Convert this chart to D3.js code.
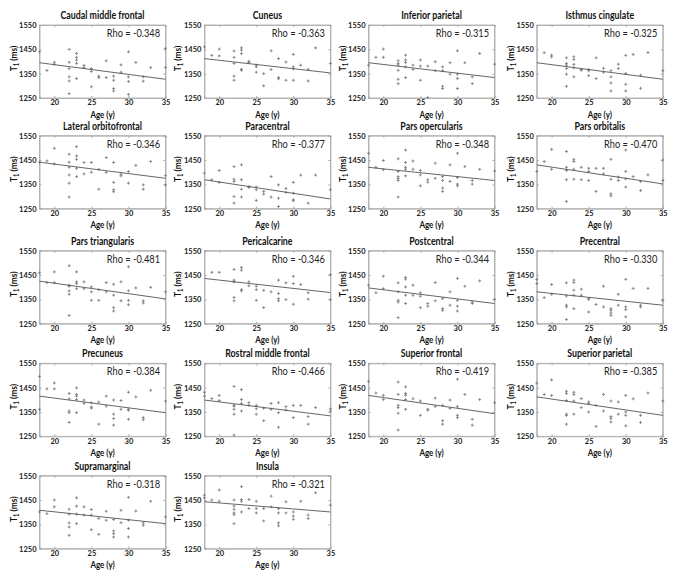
<!DOCTYPE html>
<html><head><meta charset="utf-8">
<script src="https://cdn.jsdelivr.net/npm/d3@7"></script>
<style>body{margin:0;background:#fff}svg{display:block}</style>
</head><body><svg id="c" width="683" height="578"></svg>
<script>
const regions = ["Caudal middle frontal","Cuneus","Inferior parietal","Isthmus cingulate",
 "Lateral orbitofrontal","Paracentral","Pars opercularis","Pars orbitalis",
 "Pars triangularis","Pericalcarine","Postcentral","Precentral",
 "Precuneus","Rostral middle frontal","Superior frontal","Superior parietal",
 "Supramarginal","Insula"];
const rhos = ["-0.348","-0.363","-0.315","-0.325","-0.346","-0.377","-0.348","-0.470","-0.481",
 "-0.346","-0.344","-0.330","-0.384","-0.466","-0.419","-0.385","-0.318","-0.321"];
// fitted line values at age 18 and age 35
const fitLines = [[1395,1327],[1412,1353],[1395,1334],[1395,1327],[1441,1375],[1369,1290],
 [1420,1366],[1430,1352],[1425,1352],[1436,1378],[1397,1333],[1381,1326],
 [1415,1347],[1399,1334],[1418,1343],[1412,1336],[1408,1353],[1443,1401]];
const xTicks = [20,25,30,35];
const yTicks = [1250,1350,1450,1550];
const ageDomain = [18,35];
const t1Domain = [1250,1550];

const caudalMiddleFrontal = [[18,1440],[19,1363],[20,1397],[20,1389],[22,1450],[22,1397],[22,1371],[22,1337],[22,1320],[22,1268],[23,1433],[23,1417],[23,1406],[23,1392],[23,1330],[24,1384],[24,1375],[25,1371],[25,1359],[25,1296],[26,1340],[26,1334],[27,1403],[27,1334],[28,1340],[28,1323],[28,1289],[28,1279],[29,1386],[29,1356],[30,1440],[30,1337],[30,1318],[30,1265],[31,1396],[32,1337],[32,1319],[33,1375],[35,1454],[35,1375]];
const cuneus = [[18,1460],[19,1425],[20,1451],[20,1423],[22,1443],[22,1417],[22,1392],[22,1340],[22,1323],[23,1456],[23,1447],[23,1433],[23,1368],[23,1364],[24,1401],[24,1396],[25,1385],[25,1378],[25,1356],[26,1350],[26,1300],[27,1444],[27,1367],[28,1412],[28,1334],[28,1329],[29,1398],[29,1323],[30,1429],[30,1378],[30,1370],[30,1323],[31,1385],[32,1368],[32,1320],[33,1456],[35,1392]];
const inferiorParietal = [[18,1385],[19,1417],[20,1451],[20,1417],[22,1403],[22,1392],[22,1385],[22,1364],[22,1327],[22,1309],[23,1426],[23,1406],[23,1396],[23,1378],[23,1334],[24,1385],[24,1367],[25,1406],[25,1381],[25,1323],[26,1381],[26,1252],[27,1399],[27,1362],[28,1378],[28,1362],[28,1298],[28,1289],[29,1395],[29,1348],[30,1444],[30,1348],[30,1330],[30,1289],[31,1395],[32,1337],[32,1309],[33,1433],[35,1389]];
const isthmusCingulate = [[19,1436],[20,1426],[20,1419],[22,1415],[22,1392],[22,1385],[22,1371],[22,1348],[22,1298],[23,1419],[23,1408],[23,1388],[23,1374],[23,1337],[24,1367],[24,1364],[25,1367],[25,1362],[25,1342],[26,1415],[26,1330],[27,1372],[27,1356],[28,1362],[28,1337],[28,1312],[28,1279],[29,1389],[29,1371],[30,1425],[30,1351],[30,1306],[30,1279],[31,1429],[32,1344],[32,1290],[33,1437],[35,1362]];
const lateralOrbitofrontal = [[18,1441],[19,1446],[20,1498],[20,1434],[22,1474],[22,1441],[22,1420],[22,1389],[22,1355],[22,1298],[23,1505],[23,1467],[23,1453],[23,1416],[23,1382],[24,1440],[24,1393],[25,1440],[25,1400],[26,1412],[26,1330],[27,1460],[27,1399],[28,1440],[28,1358],[28,1328],[28,1320],[29,1392],[29,1385],[30,1403],[30,1355],[31,1428],[32,1348],[32,1330],[33,1444],[35,1386],[35,1348]];
const paracentral = [[18,1396],[19,1369],[20,1407],[20,1358],[22,1423],[22,1371],[22,1362],[22,1300],[22,1273],[23,1430],[23,1369],[23,1330],[23,1298],[24,1341],[24,1337],[25,1339],[25,1328],[25,1284],[26,1321],[26,1310],[27,1382],[27,1298],[28,1348],[28,1293],[28,1259],[29,1333],[29,1317],[30,1358],[30,1314],[30,1287],[30,1283],[31,1388],[32,1273],[33,1388],[35,1328]];
const parsOpercularis = [[18,1478],[19,1420],[20,1448],[20,1410],[22,1455],[22,1403],[22,1382],[22,1374],[22,1366],[22,1298],[23,1491],[23,1440],[23,1420],[23,1412],[23,1385],[24,1446],[24,1412],[25,1407],[25,1389],[25,1344],[26,1369],[26,1359],[27,1437],[27,1375],[28,1382],[28,1366],[28,1335],[28,1321],[29,1430],[29,1362],[30,1478],[30,1378],[30,1351],[30,1344],[31,1423],[32,1366],[32,1351],[33,1412],[35,1405]];
const parsOrbitalis = [[18,1403],[19,1444],[20,1494],[20,1412],[22,1485],[22,1420],[22,1407],[22,1369],[22,1280],[23,1453],[23,1444],[23,1412],[23,1371],[24,1420],[24,1369],[25,1416],[25,1403],[25,1366],[26,1416],[26,1321],[27,1416],[27,1393],[28,1453],[28,1371],[28,1311],[28,1303],[29,1380],[29,1366],[30,1491],[30,1403],[30,1373],[30,1339],[31,1382],[32,1362],[32,1325],[33,1389],[35,1450],[35,1366]];
const parsTriangularis = [[18,1459],[19,1419],[20,1463],[20,1419],[22,1488],[22,1408],[22,1404],[22,1385],[22,1371],[22,1284],[23,1463],[23,1422],[23,1415],[23,1394],[24,1422],[24,1394],[25,1401],[25,1381],[25,1346],[26,1390],[26,1346],[27,1419],[27,1381],[28,1412],[28,1367],[28,1316],[28,1302],[29,1422],[29,1344],[30,1484],[30,1385],[30,1346],[30,1328],[31,1397],[32,1344],[32,1335],[33,1399],[35,1381]];
const pericalcarine = [[19,1461],[20,1461],[22,1473],[22,1429],[22,1421],[22,1358],[22,1344],[23,1481],[23,1470],[23,1390],[23,1385],[24,1422],[24,1406],[25,1404],[25,1390],[25,1346],[26,1387],[26,1316],[27,1381],[28,1429],[28,1374],[28,1353],[28,1344],[29,1418],[29,1349],[30,1445],[30,1415],[30,1330],[31,1411],[32,1377],[32,1351],[35,1452],[35,1349]];
const postcentral = [[18,1408],[19,1377],[20,1445],[20,1394],[22,1418],[22,1381],[22,1346],[22,1339],[22,1275],[23,1440],[23,1433],[23,1401],[23,1367],[23,1333],[24,1408],[24,1367],[25,1377],[25,1363],[25,1316],[26,1333],[26,1322],[27,1419],[27,1344],[28,1353],[28,1312],[28,1305],[29,1381],[29,1326],[30,1436],[30,1346],[30,1322],[30,1302],[31,1404],[32,1339],[32,1333],[33,1426],[35,1350]];
const precentral = [[18,1432],[18,1415],[19,1357],[20,1411],[20,1371],[22,1418],[22,1364],[22,1326],[22,1319],[22,1267],[23,1429],[23,1419],[23,1388],[23,1367],[23,1312],[24,1392],[24,1367],[25,1353],[25,1350],[25,1298],[26,1329],[27,1404],[27,1319],[28,1312],[28,1305],[28,1294],[28,1284],[29,1371],[29,1326],[30,1432],[30,1319],[30,1308],[30,1278],[31,1395],[32,1326],[32,1319],[33,1395],[35,1346]];
const precuneus = [[18,1496],[18,1361],[19,1445],[20,1469],[20,1445],[22,1426],[22,1404],[22,1354],[22,1347],[22,1307],[23,1449],[23,1422],[23,1415],[23,1401],[23,1347],[24,1399],[24,1385],[25,1388],[25,1370],[25,1366],[26,1391],[26,1300],[27,1415],[27,1374],[28,1399],[28,1341],[28,1323],[28,1296],[29,1397],[29,1361],[30,1431],[30,1361],[30,1357],[30,1320],[31,1412],[32,1327],[32,1318],[33,1439],[35,1395]];
const rostralMiddleFrontal = [[18,1431],[18,1415],[19,1405],[20,1418],[20,1397],[22,1455],[22,1377],[22,1374],[22,1361],[22,1341],[22,1255],[23,1442],[23,1401],[23,1385],[23,1354],[24,1388],[24,1377],[25,1377],[25,1363],[25,1341],[26,1365],[26,1314],[27,1385],[27,1361],[28,1388],[28,1347],[28,1287],[29,1372],[29,1358],[30,1377],[30,1327],[31,1377],[32,1331],[32,1300],[33,1368],[35,1363],[35,1354]];
const superiorFrontal = [[18,1476],[19,1428],[20,1418],[20,1401],[22,1473],[22,1422],[22,1377],[22,1368],[22,1345],[22,1276],[23,1453],[23,1426],[23,1419],[23,1401],[23,1361],[24,1404],[25,1395],[25,1336],[26,1361],[26,1358],[27,1407],[27,1372],[28,1377],[28,1314],[28,1300],[29,1399],[29,1365],[30,1485],[30,1372],[30,1336],[30,1327],[31,1422],[32,1320],[32,1296],[33,1401],[35,1388]];
const superiorParietal = [[18,1469],[19,1422],[20,1482],[20,1418],[22,1435],[22,1426],[22,1397],[22,1341],[22,1336],[22,1300],[23,1431],[23,1422],[23,1395],[23,1341],[24,1405],[24,1368],[25,1391],[25,1385],[25,1350],[26,1377],[26,1291],[27,1422],[27,1354],[28,1395],[28,1331],[28,1323],[28,1309],[29,1391],[29,1341],[30,1418],[30,1350],[30,1336],[30,1293],[31,1404],[32,1336],[32,1307],[33,1428],[35,1395]];
const supramarginal = [[18,1401],[19,1394],[20,1450],[20,1422],[22,1412],[22,1392],[22,1356],[22,1339],[22,1305],[23,1459],[23,1425],[23,1392],[23,1353],[24,1422],[24,1388],[25,1411],[25,1388],[25,1328],[26,1374],[26,1309],[27,1404],[27,1367],[28,1370],[28,1323],[28,1312],[28,1298],[29,1408],[29,1357],[30,1461],[30,1367],[30,1333],[30,1298],[31,1405],[32,1356],[32,1346],[33,1445],[35,1381]];
const insula = [[18,1470],[18,1459],[19,1450],[20,1491],[20,1445],[22,1450],[22,1425],[22,1412],[22,1397],[22,1390],[22,1353],[23,1505],[23,1452],[23,1445],[23,1401],[24,1452],[24,1415],[25,1445],[25,1415],[25,1397],[26,1415],[26,1364],[27,1466],[27,1422],[28,1415],[28,1397],[28,1356],[28,1344],[29,1443],[29,1397],[30,1401],[30,1384],[30,1371],[31,1445],[32,1388],[32,1374],[33,1480],[35,1429]];

const panelData = [caudalMiddleFrontal,cuneus,inferiorParietal,isthmusCingulate,
 lateralOrbitofrontal,paracentral,parsOpercularis,parsOrbitalis,
 parsTriangularis,pericalcarine,postcentral,precentral,
 precuneus,rostralMiddleFrontal,superiorFrontal,superiorParietal,
 supramarginal,insula];

// layout
const colLeft = [39.5, 204.4, 368.5, 536.8];
const rowTop = [25, 135.7, 250.7, 363.3, 475.7];
const pw = 126, ph = 73;
const FONT = "Lato, 'Liberation Sans', Arial, sans-serif";
const axisCol = "#a8a8a8";
const narrow = 0.84;

const svg = d3.select("#c");
svg.append("rect").attr("width",683).attr("height",578).attr("fill","#fff");

const plus = "M-1.5,0H1.5M0,-1.5V1.5";

function narrowText(sel, x, y, anchor) {
  return sel.append("text")
    .attr("transform", `translate(${x},${y}) scale(${narrow},1)`)
    .attr("text-anchor", anchor);
}

regions.forEach((name, i) => {
  const c = i % 4, r = Math.floor(i / 4);
  const x = d3.scaleLinear().domain(ageDomain).range([0, pw]);
  const y = d3.scaleLinear().domain(t1Domain).range([ph, 0]);
  const g = svg.append("g").attr("transform", `translate(${colLeft[c]},${rowTop[r]})`)
    .style("font-family", FONT);

  g.append("rect").attr("width", pw).attr("height", ph)
    .attr("fill","none").attr("stroke", axisCol).attr("stroke-width",0.8);

  const xa = g.append("g").attr("transform", `translate(0,${ph})`)
    .call(d3.axisBottom(x).tickValues(xTicks).tickSize(-2).tickPadding(2).tickFormat(d3.format("d")));
  const ya = g.append("g")
    .call(d3.axisLeft(y).tickValues(yTicks).tickSize(-2).tickPadding(3).tickFormat(d3.format("d")));
  g.append("g").call(d3.axisTop(x).tickValues(xTicks).tickSize(-2).tickFormat(""));
  g.append("g").attr("transform", `translate(${pw},0)`)
    .call(d3.axisRight(y).tickValues(yTicks).tickSize(-2).tickFormat(""));
  g.selectAll(".domain").attr("stroke", axisCol).attr("stroke-width",0.8);
  g.selectAll(".tick line").attr("stroke", axisCol);
  [xa, ya].forEach(a => a.selectAll("text")
    .attr("font-family", FONT).attr("font-size", 7.5).attr("font-weight","bold").attr("fill","#222"));
  xa.selectAll("text").attr("dy","0.71em");

  g.append("g").selectAll("path").data(panelData[i]).join("path")
    .attr("d", plus)
    .attr("transform", d => `translate(${x(d[0])},${y(d[1])})`)
    .attr("stroke", "#777").attr("stroke-width", 0.8).attr("fill","none");

  const fl = fitLines[i];
  g.append("line")
    .attr("x1", x(ageDomain[0])).attr("y1", y(fl[0]))
    .attr("x2", x(ageDomain[1])).attr("y2", y(fl[1]))
    .attr("stroke", "#555").attr("stroke-width", 0.9);

  narrowText(g, pw/2, -6, "middle")
    .attr("font-size", 10.5).attr("font-weight","bold").attr("fill","#111").text(name);

  narrowText(g, pw - 5.5, 12, "end")
    .attr("font-size", 11).attr("fill","#222").text("Rho = " + rhos[i]);

  narrowText(g, pw/2, ph + 19.5, "middle")
    .attr("font-size", 9.5).attr("font-weight","bold").attr("fill","#111").text("Age (y)");

  const yl = g.append("text").attr("transform", `translate(-23,${ph/2 - 3}) rotate(-90) scale(${narrow},1)`)
    .attr("text-anchor","middle").attr("font-size", 10).attr("font-weight","bold").attr("fill","#111");
  yl.append("tspan").text("T");
  yl.append("tspan").attr("font-size", 7).attr("dy", 2).text("1");
  yl.append("tspan").attr("dy", -2).text(" (ms)");
});
</script>
</body></html>
